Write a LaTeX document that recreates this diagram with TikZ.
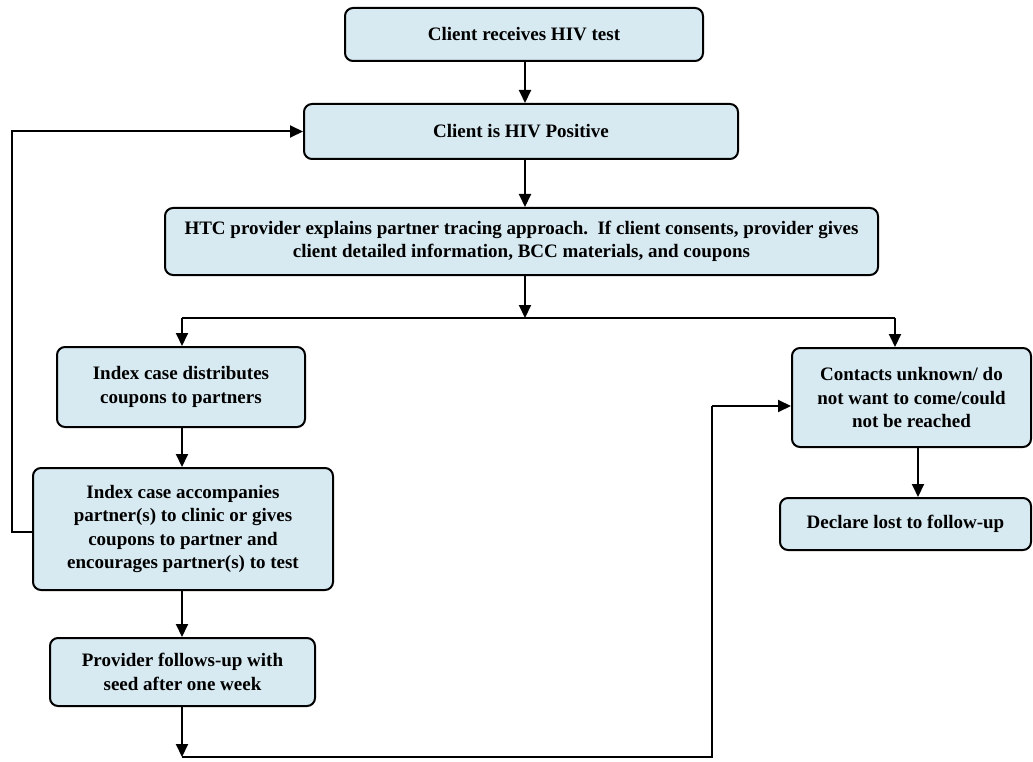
\documentclass[tikz,border=0pt]{standalone}
\usepackage{fontspec}
\setmainfont{Liberation Serif}
\usetikzlibrary{arrows.meta}
\definecolor{boxblue}{HTML}{D7E9F1}
\begin{document}
\begin{tikzpicture}[x=1pt,y=-1pt,
 box/.style={draw=black, line width=2pt, rounded corners=8pt, fill=boxblue, align=center,
   font=\fontsize{19}{23.5}\selectfont\bfseries, inner sep=0pt},
 arr/.style={line width=2pt, -{Triangle[length=13pt,width=12pt]}},
 ln/.style={line width=2pt}]
\useasboundingbox (0,0) rectangle (1033,762);
\node[box, minimum width=358pt, minimum height=53pt] (b1) at (524,34.5) {Client receives HIV test};
\node[box, minimum width=434pt, minimum height=55pt] (b2) at (521,131.5) {Client is HIV Positive};
\node[box, minimum width=713pt, minimum height=67pt] (b3) at (521.5,241.5) {HTC provider explains partner tracing approach.\ \ If client consents, provider gives\\ client detailed information, BCC materials, and coupons};
\node[box, minimum width=248pt, minimum height=80pt] (b4) at (181,387) {Index case distributes\\ coupons to partners};
\node[box, minimum width=300pt, minimum height=122pt] (b5) at (183,529) {Index case accompanies\\ partner(s) to clinic or gives\\ coupons to partner and\\ encourages partner(s) to test};
\node[box, minimum width=265pt, minimum height=68pt] (b6) at (182.5,672) {Provider follows-up with\\ seed after one week};
\node[box, minimum width=239pt, minimum height=99pt] (b7) at (911.5,397.5) {Contacts unknown/ do\\ not want to come/could\\ not be reached};
\node[box, minimum width=251pt, minimum height=52pt] (b8) at (905.5,524) {Declare lost to follow-up};
% main trunk
\coordinate (tx) at (525,0);
\draw[arr] (tx |- b1.south) -- (tx |- b2.north);
\draw[arr] (tx |- b2.south) -- (tx |- b3.north);
\coordinate (sp) at (525,318);
\coordinate (sl) at (182,318);
\coordinate (sr) at (895,318);
\draw[arr] (tx |- b3.south) -- (sp);
\draw[ln] (sl) -- (sr);
\draw[arr] (sl) -- (sl |- b4.north);
\draw[arr] (sr) -- (sr |- b7.north);
% left column
\coordinate (lx) at (182,0);
\draw[arr] (lx |- b4.south) -- (lx |- b5.north);
\draw[arr] (lx |- b5.south) -- (lx |- b6.north);
\coordinate (bl) at (182,757);
\coordinate (br) at (712,757);
\coordinate (bu) at (712,406);
\draw[arr] (lx |- b6.south) -- (bl);
\draw[ln] (bl) -- (br) -- (bu);
\draw[arr] (bu) -- (bu -| b7.west);
% feedback loop
\coordinate (l1) at (12,532);
\draw[arr] (b5.west |- l1) -- (l1) -- (l1 |- b2.west) -- (b2.west);
% right column
\coordinate (c78) at (918,0);
\draw[arr] (c78 |- b7.south) -- (c78 |- b8.north);
\end{tikzpicture}
\end{document}
